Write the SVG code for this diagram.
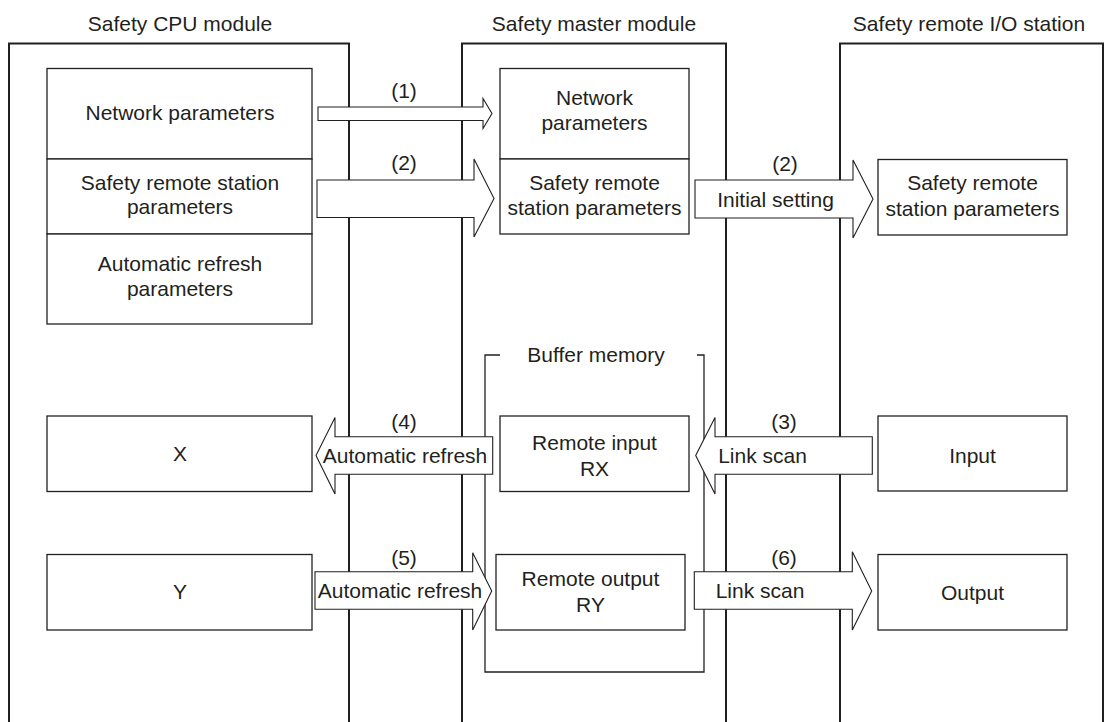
<svg xmlns="http://www.w3.org/2000/svg" width="1106" height="722" viewBox="0 0 1106 722">
<style>
text{font-family:"Liberation Sans",Arial,sans-serif;font-size:21px;fill:#231f20;text-anchor:middle}
.mod{fill:none;stroke:#231f20;stroke-width:2}
.box{fill:#fff;stroke:#231f20;stroke-width:1.3}
.arr{fill:#fff;stroke:#231f20;stroke-width:1.1;stroke-linejoin:miter}
.br{fill:none;stroke:#231f20;stroke-width:1.3}
</style>
<rect width="1106" height="722" fill="#fff"/>
<g id="cpu-module">
<path class="mod" d="M9,723 V43.5 H349 V723"/>
<text x="180" y="31">Safety CPU module</text>
</g>
<g id="master-module">
<path class="mod" d="M462,723 V43.5 H726 V723"/>
<text x="594" y="31">Safety master module</text>
</g>
<g id="remote-station">
<path class="mod" d="M840,723 V43.5 H1103 V723"/>
<text x="969" y="31">Safety remote I/O station</text>
</g>
<g id="buffer-memory">
<path class="br" d="M500,355 H485 V672 H704 V355 H697"/>
<text x="596" y="362">Buffer memory</text>
</g>
<g id="cpu-network-params">
<rect class="box" x="47" y="68.5" width="265" height="90.5"/>
<text x="180" y="120">Network parameters</text>
</g>
<g id="cpu-safety-remote-params">
<rect class="box" x="47" y="159" width="265" height="75"/>
<text x="180" y="190">Safety remote station</text>
<text x="180" y="214">parameters</text>
</g>
<g id="cpu-auto-refresh-params">
<rect class="box" x="47" y="234" width="265" height="90"/>
<text x="180" y="271">Automatic refresh</text>
<text x="180" y="296">parameters</text>
</g>
<g id="cpu-x">
<rect class="box" x="47" y="416" width="265" height="75.5"/>
<text x="180" y="461">X</text>
</g>
<g id="cpu-y">
<rect class="box" x="47" y="554.5" width="265" height="75.5"/>
<text x="180" y="599">Y</text>
</g>
<g id="master-network-params">
<rect class="box" x="500" y="68.5" width="189" height="90.5"/>
<text x="594.5" y="105">Network</text>
<text x="594.5" y="130">parameters</text>
</g>
<g id="master-safety-remote-params">
<rect class="box" x="500" y="159" width="189" height="75"/>
<text x="594.5" y="190">Safety remote</text>
<text x="594.5" y="215">station parameters</text>
</g>
<g id="remote-input-rx">
<rect class="box" x="500" y="416" width="189" height="75.5"/>
<text x="594.5" y="450">Remote input</text>
<text x="594.5" y="476">RX</text>
</g>
<g id="remote-output-ry">
<rect class="box" x="496" y="554.5" width="189" height="75.5"/>
<text x="590.5" y="586">Remote output</text>
<text x="590.5" y="612">RY</text>
</g>
<g id="station-safety-remote-params">
<rect class="box" x="878" y="159.5" width="189" height="75.5"/>
<text x="972.5" y="190">Safety remote</text>
<text x="972.5" y="216">station parameters</text>
</g>
<g id="station-input">
<rect class="box" x="878" y="416" width="189" height="75"/>
<text x="972.5" y="463">Input</text>
</g>
<g id="station-output">
<rect class="box" x="878" y="554.5" width="189" height="75.5"/>
<text x="972.5" y="600">Output</text>
</g>
<g id="connectors">
<path class="arr" d="M318,107 H483 V98.5 L492,113.5 L483,128.5 V120.5 H318 Z"/>
<text x="404" y="98">(1)</text>
<path class="arr" d="M317,180 H474 V159 L494,198.5 L474,237 V217.5 H317 Z"/>
<text x="404" y="170">(2)</text>
<path class="arr" d="M695,180 H853 V160 L873,199 L853,238 V218 H695 Z"/>
<text x="785" y="171">(2)</text>
<text x="775.5" y="207">Initial setting</text>
<path class="arr" d="M316,455.5 L335,417.5 V436.7 H492.7 V474.3 H335 V494 Z"/>
<text x="404" y="429">(4)</text>
<text x="405" y="463">Automatic refresh</text>
<path class="arr" d="M695.7,455.5 L715,417.5 V436.7 H872.3 V474.3 H715 V494 Z"/>
<text x="784" y="429">(3)</text>
<text x="762.5" y="463">Link scan</text>
<path class="arr" d="M315,571.7 H472.7 V552.7 L491.7,591 L472.7,630 V609.3 H315 Z"/>
<text x="404" y="565">(5)</text>
<text x="400" y="598">Automatic refresh</text>
<path class="arr" d="M694.3,571.7 H852.3 V551.7 L871.7,591 L852.3,630 V609.3 H694.3 Z"/>
<text x="784" y="565">(6)</text>
<text x="760" y="598">Link scan</text>
</g>
</svg>
